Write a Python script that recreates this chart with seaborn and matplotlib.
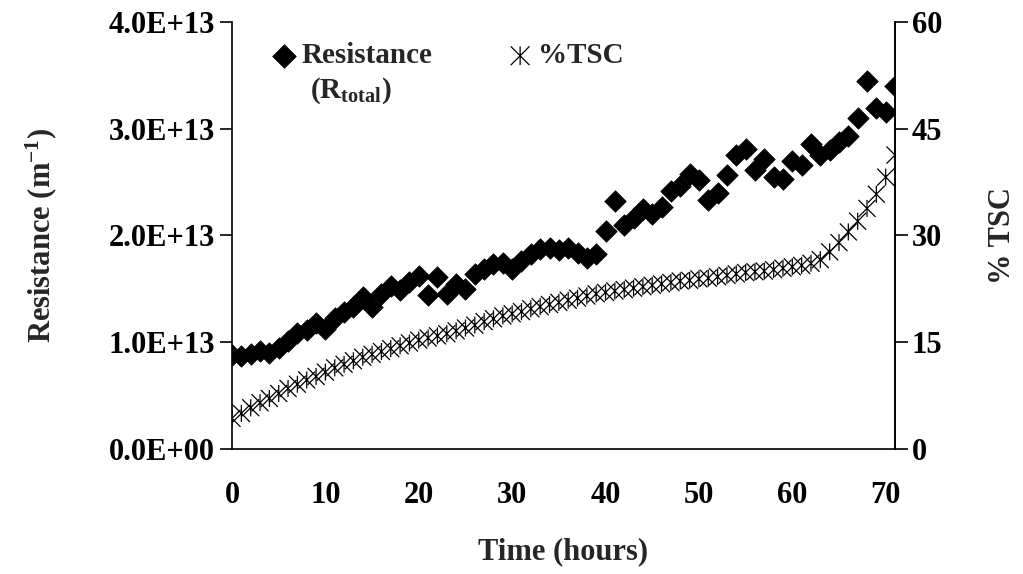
import numpy as np
import pandas as pd
import matplotlib
matplotlib.use("Agg")
import matplotlib.pyplot as plt
from matplotlib.path import Path
from matplotlib.ticker import FuncFormatter, MultipleLocator
import seaborn as sns

# hours of filtration
hours = list(range(72))

# total resistance, in units of 1E+13 m^-1
resistance_e13 = [
    0.88, 0.87, 0.89, 0.92, 0.90, 0.95, 1.01, 1.09, 1.11, 1.18,
    1.12, 1.23, 1.28, 1.33, 1.42, 1.33, 1.45, 1.53, 1.49, 1.56,
    1.62, 1.44, 1.61, 1.45, 1.55, 1.50, 1.64, 1.69, 1.73, 1.74,
    1.69, 1.76, 1.83, 1.87, 1.88, 1.86, 1.88, 1.84, 1.79, 1.83,
    2.04, 2.32, 2.10, 2.16, 2.25, 2.20, 2.27, 2.42, 2.46, 2.58,
    2.52, 2.33, 2.40, 2.57, 2.75, 2.81, 2.61, 2.72, 2.55, 2.53,
    2.70, 2.66, 2.86, 2.75, 2.80, 2.88, 2.93, 3.10, 3.45, 3.19,
    3.16, 3.40,
]

# total solids content, %
tsc = [
    4.3, 5.0, 5.8, 6.5, 7.1, 7.8, 8.5, 9.1, 9.7, 10.2,
    10.8, 11.4, 11.9, 12.4, 12.9, 13.3, 13.7, 14.1, 14.5, 14.9,
    15.3, 15.6, 15.9, 16.2, 16.6, 17.0, 17.4, 17.9, 18.3, 18.7,
    19.0, 19.3, 19.7, 20.0, 20.3, 20.6, 20.9, 21.2, 21.5, 21.8,
    22.0, 22.2, 22.4, 22.6, 22.8, 23.0, 23.2, 23.4, 23.6, 23.7,
    23.9, 24.0, 24.2, 24.4, 24.6, 24.8, 24.9, 25.0, 25.2, 25.4,
    25.6, 25.8, 26.1, 26.6, 27.7, 29.0, 30.5, 32.0, 33.8, 35.8,
    38.2, 41.3,
]

data = pd.DataFrame({
    "Time": hours,
    "Resistance": np.array(resistance_e13) * 1e13,
    "TSC": tsc,
})

sns.set_style("white")
plt.rcParams["font.family"] = ["Liberation Serif", "DejaVu Serif"]
plt.rcParams["font.weight"] = "bold"
plt.rcParams["mathtext.fontset"] = "custom"
plt.rcParams["mathtext.rm"] = "Liberation Serif:bold"
plt.rcParams["mathtext.bf"] = "Liberation Serif:bold"
plt.rcParams["mathtext.it"] = "Liberation Serif:bold:italic"

fs = 22

# excel style star marker: vertical bar plus an X
star = Path(
    [(0, -1), (0, 1), (-1, -1), (1, 1), (-1, 1), (1, -1)],
    [Path.MOVETO, Path.LINETO, Path.MOVETO, Path.LINETO, Path.MOVETO, Path.LINETO],
)

fig = plt.figure(figsize=(10.23, 5.74), dpi=100)
ax = fig.add_axes([0.2268, 0.2178, 0.6481, 0.7439])
ax2 = ax.twinx()

sns.scatterplot(data=data, x="Time", y="Resistance", marker="D", s=120,
                color="black", edgecolor="black", linewidth=0.5,
                label="Resistance", ax=ax, legend=False)
sns.scatterplot(data=data, x="Time", y="TSC", marker=star, s=150,
                facecolor="none", edgecolor="black", linewidth=0.9,
                label="%TSC", ax=ax2, legend=False)

ax.set_xlim(0, 71)
ax.set_ylim(0, 4e13)
ax2.set_ylim(0, 60)

ax.xaxis.set_major_locator(MultipleLocator(10))
ax.yaxis.set_major_locator(MultipleLocator(1e13))
ax2.yaxis.set_major_locator(MultipleLocator(15))
ax.yaxis.set_major_formatter(FuncFormatter(lambda v, p: f"{v:.1E}"))

for a in (ax, ax2):
    a.spines["top"].set_visible(False)
    for s in a.spines.values():
        s.set_linewidth(1.2)
        s.set_color("black")
    a.tick_params(direction="out", length=9, width=1.2, colors="black",
                  labelsize=fs, pad=3)
ax2.spines["left"].set_visible(False)
ax2.spines["bottom"].set_visible(False)
ax.tick_params(axis="x", pad=14)

ax.set_xlabel("Time (hours)", fontsize=fs, fontweight="bold", labelpad=20)
ax.set_ylabel("Resistance (m$^{-1}$)", fontsize=fs, fontweight="bold", labelpad=36)
ax2.set_ylabel("% TSC", fontsize=fs, fontweight="bold", labelpad=33)

# legend in two columns, second line of the resistance label added as text
h1, l1 = ax.get_legend_handles_labels()
h2, l2 = ax2.get_legend_handles_labels()
ax2.legend(h1 + h2, l1 + l2, loc="upper left", bbox_to_anchor=(0.026, 1.0),
           ncol=2, frameon=False, fontsize=fs - 1, handletextpad=0.1,
           columnspacing=2.5, handlelength=1.0, borderaxespad=0.3,
           markerscale=1.1)
ax2.text(0.118, 0.839, r"(R$_{\mathrm{total}}$)", transform=ax2.transAxes,
         fontsize=fs - 1, fontweight="bold", va="center", ha="left")

fig.savefig("out.png", dpi=100)
